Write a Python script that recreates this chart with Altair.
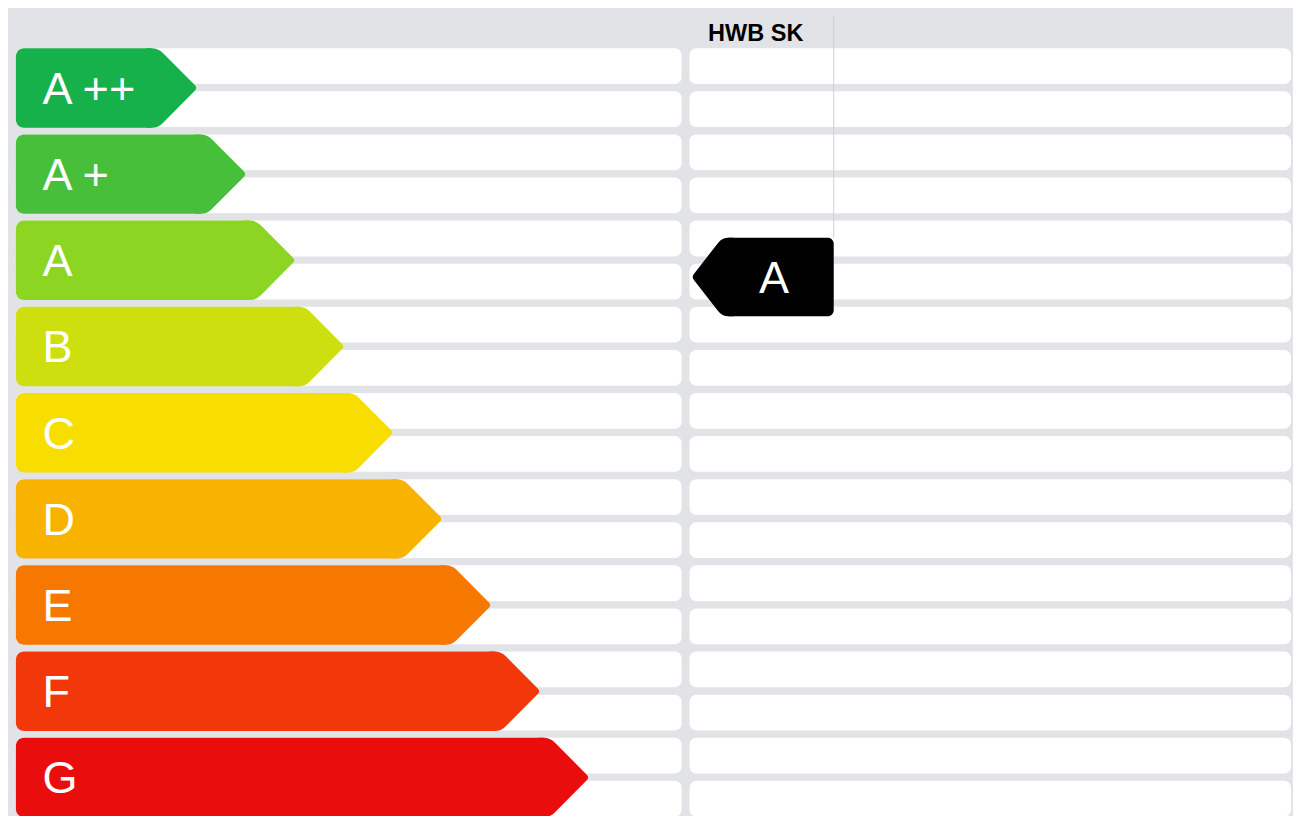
import math
import altair as alt
import pandas as pd

# ---------------- data ----------------
classes = ["A ++", "A +", "A", "B", "C", "D", "E", "F", "G"]
class_colors = ["#16b14a", "#47bf3b", "#8cd523", "#cddf0e", "#f7de00",
                "#f8b200", "#f77800", "#f2380b", "#e90e0d"]
column_titles = ["HWB SK"]
ratings = ["A"]

# ---------------- layout (reference pixel units) ----------------
REF_W, REF_H = 1301, 824
W, H = 1285, 808
SX, SY = W / REF_W, H / REF_H
LEFT = 8
TOP = 41
CLASS_PITCH = 87.9
ARROW_H = 81
SUB_PITCH = CLASS_PITCH / 2
SUB_H = 36.5
TIP0 = 192
TIP_STEP = 49.6
CHAMFER = 40
LABEL_X = 35
LEFT_COL_END = 682
RIGHT_COL_START = 690
RIGHT = 1299
MARKER_TIP = 692
MARKER_CHAMFER = 31
MARKER_RIGHT = 836
MARKER_H = 80
MARKER_DY = 17
HEADER_X = 757
HEADER_Y = 25.5
RULE_TOP = 8
CORNER_R = 0.16   # shoulder rounding, in half-height units
APEX_R = 0.10     # tip rounding, in half-height units
FONT = "Liberation Sans"
BG = "#e2e3e6"

xs = alt.Scale(domain=[0, REF_W], nice=False, zero=False)
ys = alt.Scale(domain=[0, REF_H], nice=False, zero=False, reverse=True)


def X(f):
    return alt.X(f, type="quantitative", scale=xs, axis=None)


def Y(f):
    return alt.Y(f, type="quantitative", scale=ys, axis=None)


def rounded_path(pts, radii):
    """Symbol path through pts, with rounded corners of given radii."""
    out = []
    n = len(pts)
    for k, (p, r) in enumerate(zip(pts, radii)):
        if r == 0 or k == 0 or k == n - 1:
            out.append(("L" if out else "M") + f" {p[0]:.4f} {p[1]:.4f}")
            continue
        a, b = pts[k - 1], pts[k + 1]
        da = (a[0] - p[0], a[1] - p[1]); la = math.hypot(*da)
        db = (b[0] - p[0], b[1] - p[1]); lb = math.hypot(*db)
        p1 = (p[0] + da[0] / la * r, p[1] + da[1] / la * r)
        p2 = (p[0] + db[0] / lb * r, p[1] + db[1] / lb * r)
        out.append(f"L {p1[0]:.4f} {p1[1]:.4f}")
        out.append(f"Q {p[0]:.4f} {p[1]:.4f} {p2[0]:.4f} {p2[1]:.4f}")
    return " ".join(out) + " Z"


# white background rows (two per class, two columns)
row_recs = []
for j in range(2 * len(classes)):
    t = TOP + j * SUB_PITCH
    row_recs.append({"x": LEFT, "x2": LEFT_COL_END, "y": t, "y2": t + SUB_H})
    row_recs.append({"x": RIGHT_COL_START, "x2": RIGHT, "y": t, "y2": t + SUB_H})
rows_df = pd.DataFrame(row_recs)

unit_a_ref = ARROW_H / 2          # half-height, reference px
arrow_recs = []
for i, (lab, col) in enumerate(zip(classes, class_colors)):
    t = TOP + i * CLASS_PITCH
    tip = TIP0 + i * TIP_STEP
    xb = tip - CHAMFER
    arrow_recs.append({
        "label": lab, "color": col,
        "x": LEFT, "xb": xb, "xr": xb - CORNER_R * unit_a_ref,
        "y": t, "y2": t + ARROW_H, "mid": t + ARROW_H / 2,
        "lx": LABEL_X,
    })
arrows_df = pd.DataFrame(arrow_recs)

r_idx = classes.index(ratings[0])
m_mid = TOP + r_idx * CLASS_PITCH + ARROW_H / 2 + MARKER_DY
unit_m_ref = MARKER_H / 2
m_xb = MARKER_TIP + MARKER_CHAMFER
marker_df = pd.DataFrame([{
    "label": ratings[0],
    "xb": m_xb, "xl": m_xb + CORNER_R * unit_m_ref,
    "x2": MARKER_RIGHT, "y": m_mid - MARKER_H / 2, "y2": m_mid + MARKER_H / 2,
    "mid": m_mid, "tx": (m_xb + MARKER_RIGHT) / 2 - 4,
    "rx": MARKER_RIGHT, "ry": RULE_TOP,
}])
title_df = pd.DataFrame([{"t": column_titles[0], "x": HEADER_X, "y": HEADER_Y}])

# ---------------- layers ----------------
rows = alt.Chart(rows_df).mark_rect(color="white", cornerRadius=7).encode(
    x=X("x"), x2=alt.X2("x2"), y=Y("y"), y2=alt.Y2("y2"))

rule = alt.Chart(marker_df).mark_rule(color="#cfd0d3", strokeWidth=1).encode(
    x=X("rx"), y=Y("ry"), y2=alt.Y2("y"))

title = alt.Chart(title_df).mark_text(
    font=FONT, fontSize=23.5, fontWeight="bold", color="black",
    align="center", baseline="middle", dy=1).encode(
    x=X("x"), y=Y("y"), text="t:N")

bodies = alt.Chart(arrows_df).mark_rect(
    cornerRadiusTopLeft=8, cornerRadiusBottomLeft=8).encode(
    x=X("x"), x2=alt.X2("xr"), y=Y("y"), y2=alt.Y2("y2"),
    color=alt.Color("color:N", scale=None))

tip_shape = rounded_path(
    [(-0.3, -1), (0, -1), (CHAMFER * SX / (unit_a_ref * SY), 0), (0, 1), (-0.3, 1)],
    [0, CORNER_R, APEX_R, CORNER_R, 0])
tips = alt.Chart(arrows_df).mark_point(
    shape=tip_shape, filled=True, opacity=1,
    size=(2 * unit_a_ref * SY) ** 2, strokeWidth=0).encode(
    x=X("xb"), y=Y("mid"),
    fill=alt.Fill("color:N", scale=None))

labels = alt.Chart(arrows_df).mark_text(
    font=FONT, fontSize=45, color="white", align="left",
    baseline="middle", dy=2).encode(
    x=X("lx"), y=Y("mid"), text="label:N")

m_body = alt.Chart(marker_df).mark_rect(
    color="black", cornerRadiusTopRight=6, cornerRadiusBottomRight=6).encode(
    x=X("xl"), x2=alt.X2("x2"), y=Y("y"), y2=alt.Y2("y2"))

c = MARKER_CHAMFER * SX / (unit_m_ref * SY)
m_shape = rounded_path(
    [(0.3, -1), (0, -1), (-c, 0), (0, 1), (0.3, 1)],
    [0, CORNER_R, APEX_R, CORNER_R, 0])
m_tip = alt.Chart(marker_df).mark_point(
    shape=m_shape, filled=True, opacity=1,
    size=(2 * unit_m_ref * SY) ** 2, fill="black", strokeWidth=0).encode(
    x=X("xb"), y=Y("mid"))

m_text = alt.Chart(marker_df).mark_text(
    font=FONT, fontSize=45, color="white", align="center",
    baseline="middle", dy=2).encode(
    x=X("tx"), y=Y("mid"), text="label:N")

chart = alt.layer(rows, rule, title, bodies, tips, labels, m_body, m_tip, m_text).properties(
    width=W, height=H,
    autosize=alt.AutoSizeParams(type="none"),
    padding=0,
    background=BG,
).configure_view(stroke=None)

chart.save("out.html", embed_options={"renderer": "svg", "actions": False})
